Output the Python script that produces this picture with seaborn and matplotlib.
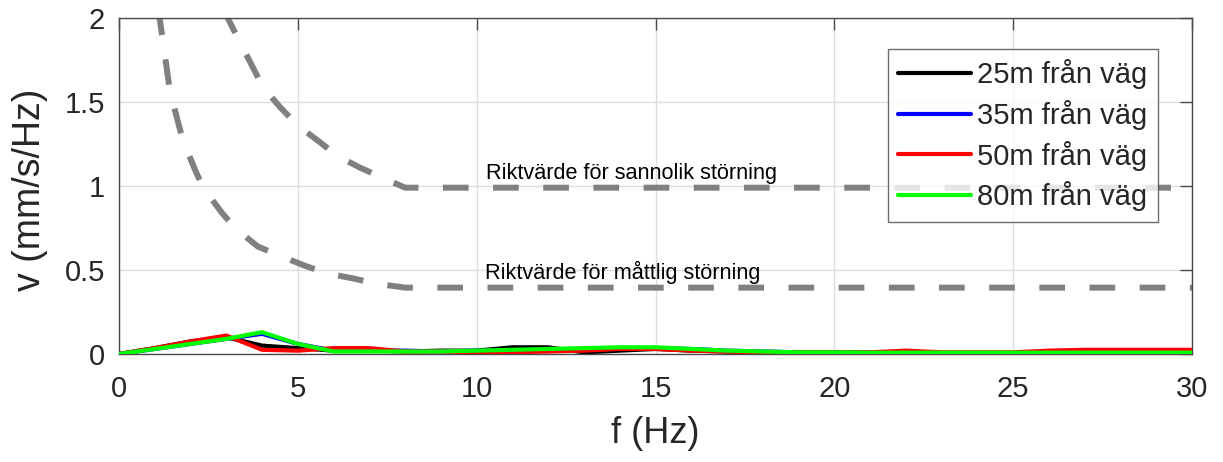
import numpy as np
import pandas as pd
import matplotlib
matplotlib.use("Agg")
import matplotlib.pyplot as plt
import seaborn as sns

# ---- data ----
freq = [0, 1, 2, 3, 4, 5, 6, 7, 8, 9, 10, 11, 12, 13, 14, 15, 16, 17, 18, 19, 20,
        21, 22, 23, 24, 25, 26, 27, 28, 29, 30]
v_25m = [0, 0.035, 0.075, 0.10, 0.05, 0.035, 0.02, 0.02, 0.015, 0.02, 0.02, 0.04, 0.04,
         0.01, 0.02, 0.03, 0.02, 0.015, 0.01, 0.01, 0.01, 0.0, -0.01, -0.005, -0.005,
         0.0, 0.005, 0.005, 0.005, 0.005, 0.005]
v_35m = [0, 0.03, 0.06, 0.09, 0.12, 0.06, 0.02, 0.02, 0.02, 0.015, 0.02, 0.02, 0.025,
         0.03, 0.035, 0.035, 0.03, 0.02, 0.015, 0.01, 0.01, 0.01, 0.005, 0.005, 0.005,
         0.005, 0.005, 0.005, 0.005, 0.005, 0.005]
v_50m = [0, 0.035, 0.075, 0.11, 0.025, 0.02, 0.035, 0.035, 0.015, 0.015, 0.01, 0.01,
         0.015, 0.02, 0.03, 0.03, 0.02, 0.015, 0.01, 0.01, 0.01, 0.01, 0.02, 0.01, 0.01,
         0.01, 0.02, 0.025, 0.025, 0.025, 0.025]
v_80m = [0, 0.03, 0.06, 0.09, 0.13, 0.06, 0.015, 0.015, 0.015, 0.015, 0.02, 0.025, 0.03,
         0.035, 0.04, 0.04, 0.03, 0.02, 0.015, 0.01, 0.01, 0.008, 0.008, 0.008, 0.008,
         0.008, 0.008, 0.008, 0.008, 0.008, 0.008]
series_labels = ["25m från väg", "35m från väg", "50m från väg", "80m från väg"]
series_colors = ["#000000", "#0000ff", "#ff0000", "#00ff00"]

# guideline curves (Riktvärden)
f_sannolik = [2.95, 3.04, 3.38, 3.71, 4.02, 4.5, 5.0, 5.56, 6.1, 6.73, 7.35, 8.0, 30]
v_sannolik = [2.05, 2.0, 1.857, 1.72, 1.59, 1.47, 1.36, 1.27, 1.18, 1.11, 1.05, 0.99, 0.99]
f_mattlig = [1.1, 1.23, 1.42, 1.65, 1.79, 2.12, 2.35, 2.88, 3.24, 3.88, 4.44, 5.14, 5.8,
             6.54, 7.15, 8.0, 30]
v_mattlig = [2.05, 1.86, 1.57, 1.38, 1.27, 1.1, 0.99, 0.84, 0.75, 0.64, 0.59, 0.53, 0.48,
             0.45, 0.42, 0.395, 0.395]
label_sannolik = "Riktvärde för sannolik störning"
label_mattlig = "Riktvärde för måttlig störning"

x_ticks = [0, 5, 10, 15, 20, 25, 30]
y_ticks = [0, 0.5, 1, 1.5, 2]
y_ticklabels = ["0", "0.5", "1", "1.5", "2"]

# ---- build frame ----
df = pd.DataFrame({
    "f": freq * 4,
    "v": v_25m + v_35m + v_50m + v_80m,
    "serie": sum([[lab] * len(freq) for lab in series_labels], []),
})

sns.set_style("white")
plt.rcParams["font.family"] = ["Liberation Sans", "DejaVu Sans"]

fig = plt.figure(figsize=(12.23, 4.62), dpi=100)
ax = fig.add_axes([119 / 1223, 1 - 354 / 462, (1192 - 119) / 1223, (354 - 18) / 462])

ink = "#262626"

sns.lineplot(data=df, x="f", y="v", hue="serie", hue_order=series_labels,
             palette=dict(zip(series_labels, series_colors)), linewidth=3,
             estimator=None, sort=False, ax=ax, zorder=3)

dash = (0, (4.3, 4.1))
ax.plot(f_sannolik, v_sannolik, color="#808080", linewidth=4.3, linestyle=dash,
        dash_capstyle="butt", zorder=2)
ax.plot(f_mattlig, v_mattlig, color="#808080", linewidth=4.3, linestyle=dash,
        dash_capstyle="butt", zorder=2)

narrow = ["Liberation Sans Narrow", "Liberation Sans", "DejaVu Sans"]
ax.text(10.25, 1.04, label_sannolik, fontsize=15.6, family=narrow, color="black",
        ha="left", va="baseline", zorder=4)
ax.text(10.22, 0.445, label_mattlig, fontsize=15.6, family=narrow, color="black",
        ha="left", va="baseline", zorder=4)

ax.set_xlim(0, 30)
ax.set_ylim(0, 2)
ax.set_xticks(x_ticks)
ax.set_xticklabels([str(t) for t in x_ticks])
ax.set_yticks(y_ticks)
ax.set_yticklabels(y_ticklabels)

ax.grid(True, color="#dcdcdc", linewidth=1)
ax.set_axisbelow(True)

for s in ax.spines.values():
    s.set_visible(True)
    s.set_color("#4a4a4a")
    s.set_linewidth(1)

ax.tick_params(axis="both", which="major", direction="in", length=8.5, width=1,
               color="#4a4a4a", labelcolor=ink, labelsize=21,
               top=True, right=True)
ax.tick_params(axis="x", pad=15)
ax.tick_params(axis="y", pad=10)

ax.set_xlabel("f (Hz)", fontsize=26, color=ink)
ax.xaxis.set_label_coords(0.5, -0.1845)
ax.set_ylabel("v (mm/s/Hz)", fontsize=27, color=ink)
ax.yaxis.set_label_coords(-0.066, 0.49)

leg = ax.legend(loc="upper right", bbox_to_anchor=(0.968, 0.908), borderaxespad=0,
                fontsize=21, frameon=True, fancybox=False, handlelength=2.5,
                handletextpad=0.2, labelspacing=0.37, borderpad=0.35)
leg.get_frame().set_edgecolor("#4a4a4a")
leg.get_frame().set_linewidth(1)
for line in leg.get_lines():
    line.set_linewidth(3)
for t in leg.get_texts():
    t.set_color(ink)

fig.savefig("out.png", dpi=100)
